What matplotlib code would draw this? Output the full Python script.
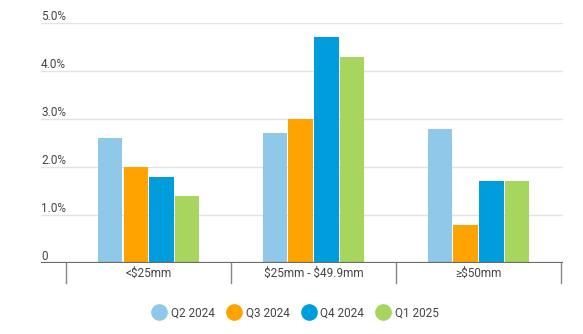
import matplotlib
matplotlib.use("Agg")
import matplotlib.pyplot as plt
from matplotlib.lines import Line2D
import numpy as np

plt.rcParams['font.family'] = ['Roboto', 'DejaVu Sans']
plt.rcParams['text.parse_math'] = False

categories = ['<$25mm', '$25mm - $49.9mm', '≥$50mm']
quarters = ['Q2 2024', 'Q3 2024', 'Q4 2024', 'Q1 2025']
q2_2024 = [2.6, 2.7, 2.8]
q3_2024 = [2.0, 3.0, 0.8]
q4_2024 = [1.8, 4.7, 1.7]
q1_2025 = [1.4, 4.3, 1.7]
yticks = [0, 1, 2, 3, 4, 5]
ytick_labels = ['0', '1.0%', '2.0%', '3.0%', '4.0%', '5.0%']

colors = ['#8fc8e8', '#ffa300', '#009ddc', '#a6d65e']
series = [q2_2024, q3_2024, q4_2024, q1_2025]

W, H = 583, 334
fig = plt.figure(figsize=(W / 100, H / 100), dpi=100)
ax = fig.add_axes([41 / W, (H - 263) / H, (563 - 41) / W, (263 - 23) / H])

x = np.arange(len(categories))
bw = 0.155
for i, (vals, c) in enumerate(zip(series, colors)):
    ax.bar(x + (i - 1.5) * bw, vals, width=bw * 0.96, color=c, zorder=3)

ax.set_xlim(-0.652, 2.512)
ax.set_ylim(0, 5)
for s in ax.spines.values():
    s.set_visible(False)
ax.set_xticks([])
ax.set_yticks([])

# horizontal gridlines and y labels sitting above them
for v, lab in zip(yticks, ytick_labels):
    if v > 0:
        ax.axhline(v, color='#e3e3e3', lw=1, zorder=1)
    ax.text(0, v, lab, transform=ax.get_yaxis_transform(), ha='left',
            va='bottom', fontsize=8.5, color='#444444')

ax.axhline(0, color='#6b6b6b', lw=1.6, zorder=4)

# category separators below the baseline
for d in np.arange(-0.5, len(categories), 1.0):
    ax.plot([d, d], [0, -0.085], transform=ax.get_xaxis_transform(),
            color='#888888', lw=1, clip_on=False)
for xi, cat in zip(x, categories):
    ax.text(xi, -0.042, cat, transform=ax.get_xaxis_transform(), ha='center',
            va='center', fontsize=8.5, color='#444444')

handles = [Line2D([], [], marker='o', ls='', markersize=11, color=c)
           for c in colors]
fig.legend(handles, quarters, loc='center', bbox_to_anchor=(0.508, (H - 313) / H),
           ncol=4, frameon=False, fontsize=8.5, handlelength=1.0,
           handletextpad=0.5, columnspacing=1.1, labelcolor='#444444')

fig.savefig('out.png', dpi=100)
